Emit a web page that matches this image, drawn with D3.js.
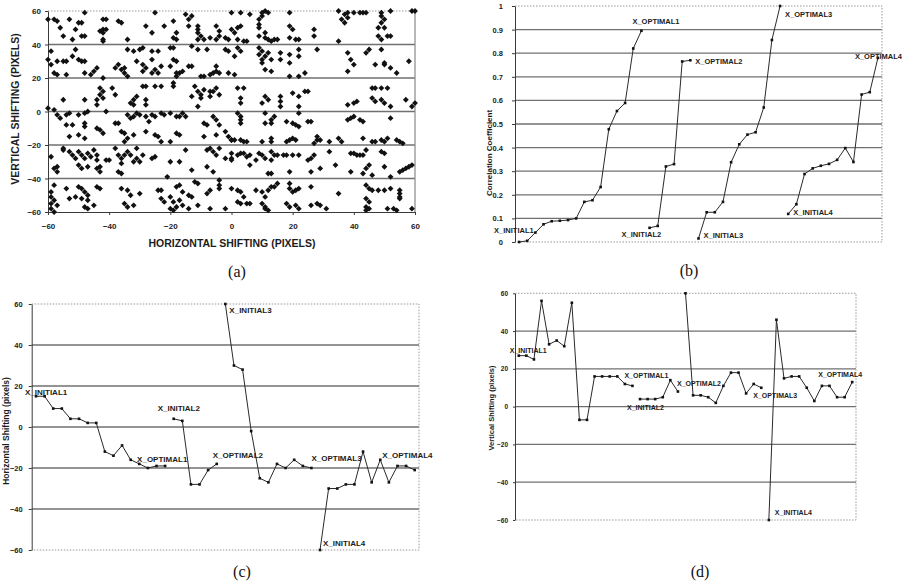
<!DOCTYPE html>
<html>
<head>
<meta charset="utf-8">
<script src="https://cdn.jsdelivr.net/npm/d3@7"></script>
<style>
  body { margin: 0; background: #fff; }
  svg { display: block; background: #fff; }
</style>
</head>
<body>
<svg id="fig" width="902" height="586"></svg>
<script>
// ---------------- data ----------------
// (a) search positions tried: [horizontal shift, vertical shift] in pixels
const searchPoints = [
  [-48,59],[-25,59],[-60,55],[-58,55],[-57,54],[-56,50],[-53,55],[-50,53],[-51,49],[-55,45],[-52,43],[-49,45],[-48,45],[-49,53],
  [-42,55],[-41,55],[-43,48],[-42,49],[-41,49],[-42,47],[-42,43],[-42,42],[-37,54],[-36,53],[-34,43],[-28,51],[-26,47],[-22,51],
  [-19,54],[-18,47],[-18,43],[-19,44],[-15,58],[-13,57],[-14,55],[-14,51],[-11,51],[-11,49],[-11,47],[-10,45],[-11,43],[-9,43],
  [-7,44],[-5,43],[-4,45],[-5,51],[-4,48],[-2,44],[-1,43],
  [-59,36],[-60,31],[-59,28],[-58,23],[-57,30],[-55,30],[-54,30],[-52,33],[-50,31],[-49,30],[-51,37],[-48,23],[-48,30],[-54,22],[-57,22],
  [-44,26],[-45,24],[-46,22],[-38,26],[-37,28],[-36,25],[-35,26],[-35,23],[-34,21],[-34,37],[-32,36],[-30,37],[-29,38],[-26,36],[-24,36],
  [-31,30],[-29,28],[-26,31],[-28,26],[-25,25],[-29,24],[-26,23],[-23,27],[-24,23],[-20,38],[-19,38],[-19,31],[-18,30],[-20,27],[-18,23],
  [-18,21],[-17,23],[-16,24],[-14,27],[-13,27],[-13,39],[-11,37],[-8,37],[-10,21],[-9,21],[-7,22],[-6,23],[-5,24],[-5,27],[-2,37],[-1,36],
  [-4,23],[-1,23],
  [-55,7],[-48,7],[-43,14],[-42,12],[-43,10],[-42,8],[-44,7],[-44,4],[-39,14],[-38,10],[-42,20],[-32,7],[-31,9],[-33,5],[-32,4],[-28,4],
  [-28,7],[-29,15],[-28,15],[-25,15],[-23,15],[-19,17],[-19,15],[-13,9],[-12,15],[-11,12],[-10,10],[-9,13],[-7,12],[-6,12],[-5,14],[-4,10],
  [-7,9],[-10,8],[-11,3],[-60,2],[-58,1],
  [0,59],[3,59],[6,58],[10,59],[11,60],[12,59],[10,57],[9,55],[19,59],[35,60],[37,58],[38,59],[40,59],[42,59],[43,59],[44,59],[36,55],
  [38,56],[37,53],[49,59],[49,57],[50,55],[49,53],[52,60],[59,60],[60,60],[0,49],[2,50],[3,51],[1,47],[2,43],[4,42],[5,42],[9,52],[9,50],
  [9,45],[11,44],[12,43],[13,42],[14,43],[15,43],[11,47],[19,51],[20,49],[19,44],[21,43],[22,43],[27,49],[27,45],[35,42],[48,50],[50,50],
  [48,45],[49,43],[51,45],[52,45],
  [2,38],[3,36],[1,33],[9,38],[10,36],[9,34],[11,33],[10,31],[12,35],[13,31],[10,29],[11,25],[13,24],[16,35],[16,31],[19,34],[19,29],
  [22,37],[22,33],[28,37],[1,22],[19,21],[22,21],[24,23],[38,35],[39,31],[40,28],[38,24],[44,35],[45,37],[49,37],[50,29],[50,28],[52,26],
  [54,23],[47,28],[58,30],
  [2,14],[4,14],[3,8],[3,5],[10,5],[11,9],[12,7],[16,9],[16,6],[16,3],[20,11],[22,9],[24,12],[25,12],[22,3],[38,4],[40,5],[41,6],[46,14],
  [47,14],[49,14],[51,14],[46,8],[47,6],[49,7],[50,5],[52,3],[57,7],[59,3],[60,5],
  [-57,-2],[-56,-4],[-54,-2],[-53,-1],[-50,-2],[-48,-1],[-47,0],[-54,-8],[-52,-8],[-48,-7],[-48,-9],[-53,-15],[-50,-14],[-48,-16],
  [-44,-10],[-43,-11],[-42,-13],[-41,0],[-38,-7],[-37,-7],[-34,-2],[-33,-4],[-32,-3],[-31,-1],[-30,-2],[-36,-12],[-35,-13],[-34,-16],
  [-35,-18],[-32,-14],[-28,-3],[-27,-6],[-26,-2],[-25,-3],[-23,-1],[-22,-2],[-20,-1],[-18,-3],[-17,-3],[-28,-12],[-25,-14],[-24,-15],
  [-23,-18],[-20,-18],[-18,-13],[-17,-14],[-16,-1],[-15,-3],[-9,-7],[-8,-8],[-9,-15],[-6,-3],[-5,-5],[-4,-8],[-2,-12],[-1,-15],[0,-17],
  [-5,-14],
  [-59,-27],[-58,-34],[-57,-33],[-57,-36],[-55,-23],[-55,-22],[-53,-24],[-52,-26],[-50,-24],[-51,-28],[-49,-26],[-48,-28],[-47,-25],
  [-46,-27],[-45,-23],[-44,-26],[-44,-29],[-50,-32],[-49,-34],[-47,-33],[-44,-34],[-43,-33],[-43,-36],[-41,-29],[-40,-29],[-38,-22],
  [-37,-26],[-36,-28],[-35,-26],[-34,-24],[-33,-26],[-32,-30],[-31,-28],[-30,-30],[-31,-22],[-36,-31],[-37,-36],[-36,-37],[-29,-26],
  [-26,-28],[-25,-27],[-20,-30],[-17,-30],[-15,-23],[-13,-35],[-8,-23],[-7,-22],[-6,-24],[-5,-26],[-4,-22],[-2,-28],[0,-29],[-8,-33],
  [-6,-36],[-21,-39],
  [-58,-44],[-59,-51],[-58,-53],[-59,-55],[-57,-56],[-59,-58],[-58,-60],[-59,-48],[-54,-46],[-53,-52],[-51,-51],[-49,-52],[-50,-45],
  [-49,-46],[-48,-48],[-47,-50],[-47,-53],[-44,-45],[-43,-46],[-48,-57],[-47,-58],[-45,-56],[-36,-46],[-34,-47],[-33,-50],[-35,-55],
  [-34,-57],[-32,-56],[-30,-49],[-24,-47],[-23,-47],[-23,-52],[-22,-54],[-20,-51],[-19,-54],[-18,-57],[-20,-58],[-19,-59],[-18,-45],
  [-17,-44],[-16,-48],[-14,-50],[-13,-51],[-17,-53],[-16,-56],[-14,-58],[-12,-42],[-11,-43],[-8,-49],[-7,-47],[-4,-41],[-4,-44],
  [-4,-46],[-7,-58],[-2,-58],[-11,-56],
  [2,-1],[3,-3],[3,-5],[3,-7],[11,-1],[13,-5],[13,-7],[11,-7],[14,-3],[22,-1],[18,-6],[20,-7],[21,-8],[22,-9],[25,-6],[26,-6],[38,-5],
  [39,-4],[40,-3],[42,-5],[43,-6],[52,-4],[0,-17],[1,-17],[3,-17],[4,-18],[5,-18],[10,-18],[13,-18],[13,-16],[18,-18],[19,-17],[20,-16],
  [21,-17],[27,-19],[28,-17],[28,-15],[29,-17],[32,-18],[35,-16],[36,-18],[43,-16],[46,-18],[47,-18],[49,-17],[51,-16],[50,-18],
  [54,-17],[55,-18],[56,-19],
  [0,-25],[0,-28],[2,-26],[3,-25],[4,-25],[5,-27],[6,-26],[8,-29],[6,-32],[9,-25],[10,-26],[11,-28],[13,-24],[13,-29],[14,-26],[15,-26],
  [17,-26],[18,-26],[20,-26],[22,-26],[25,-29],[26,-28],[27,-26],[29,-34],[32,-24],[34,-32],[12,-37],[13,-37],[19,-36],[26,-36],
  [39,-25],[40,-25],[41,-26],[42,-26],[44,-23],[43,-26],[45,-32],[44,-34],[43,-37],[46,-38],[39,-36],[49,-24],[50,-25],[50,-33],
  [52,-39],[55,-36],[56,-35],[57,-34],[58,-33],[59,-32],
  [0,-46],[2,-47],[3,-48],[4,-51],[2,-54],[3,-55],[5,-55],[6,-55],[8,-47],[10,-48],[11,-51],[12,-47],[13,-45],[14,-45],[15,-43],
  [10,-55],[11,-57],[11,-58],[12,-59],[19,-43],[19,-46],[20,-48],[21,-47],[22,-46],[26,-45],[18,-55],[19,-57],[21,-56],[22,-58],
  [26,-56],[28,-55],[29,-56],[31,-58],[35,-49],[44,-44],[45,-46],[46,-47],[48,-47],[50,-47],[44,-52],[45,-54],[44,-57],[45,-58],
  [44,-59],[52,-46],[55,-47],[55,-49],[55,-51],[55,-52],[51,-58],[53,-58],[54,-59],[59,-58]
];
const shiftTicks = [-60, -40, -20, 0, 20, 40, 60];

// (b)-(d): four searches, each a run of consecutive iterations on one category axis
const CATEGORY_COUNT = 45;
const runStarts = [0, 16, 22, 33];

const corrRun1 = [0.00, 0.005, 0.04, 0.075, 0.088, 0.09, 0.093, 0.10, 0.17, 0.177, 0.233, 0.478, 0.555, 0.589, 0.82, 0.895];
const corrRun2 = [0.06, 0.068, 0.32, 0.33, 0.765, 0.77];
const corrRun3 = [0.015, 0.126, 0.126, 0.17, 0.338, 0.414, 0.455, 0.465, 0.57, 0.856, 1.0];
const corrRun4 = [0.119, 0.16, 0.288, 0.312, 0.323, 0.331, 0.348, 0.398, 0.339, 0.625, 0.635, 0.78];
const corrTicks = [0, 0.1, 0.2, 0.3, 0.4, 0.5, 0.6, 0.7, 0.8, 0.9, 1];

const hShiftRun1 = [15, 15, 9, 9, 4, 4, 2, 2, -12, -14, -9, -16, -18, -20, -19, -19];
const hShiftRun2 = [4, 3, -28, -28, -21, -18];
const hShiftRun3 = [60, 30, 28, -2, -25, -27, -18, -20, -16, -19, -20];
const hShiftRun4 = [-60, -30, -30, -28, -28, -12, -27, -16, -27, -19, -19, -21];

const vShiftRun1 = [27, 27, 25, 56, 33, 35, 32, 55, -7, -7, 16, 16, 16, 16, 12, 11];
const vShiftRun2 = [4, 4, 4, 5, 14, 8];
const vShiftRun3 = [60, 6, 6, 5, 2, 11, 18, 18, 7, 12, 10];
const vShiftRun4 = [-60, 46, 15, 16, 16, 10, 3, 11, 11, 5, 5, 13];

// ---------------- drawing ----------------
const SANS = '"Liberation Sans", Arial, Helvetica, sans-serif';
const SERIF = '"Liberation Serif", "Times New Roman", serif';
const INK = "#1c1c1c";
const GRID = "#707070";
const svg = d3.select("#fig");

function styleAxis(ax, fontSize) {
  ax.select(".domain").attr("stroke", "#3a3a3a").attr("stroke-width", 1);
  ax.selectAll(".tick line").attr("stroke", "#3a3a3a");
  ax.selectAll(".tick text")
    .attr("font-family", SANS).attr("font-size", fontSize)
    .attr("font-weight", "bold").attr("fill", INK);
}

function panelLabel(text, cx, baseline) {
  svg.append("text").attr("x", cx).attr("y", baseline)
    .attr("text-anchor", "middle").attr("font-family", SERIF)
    .attr("font-size", 16).attr("fill", "#111").text(text);
}

function rotatedTitle(text, cx, cy, size) {
  svg.append("text")
    .attr("transform", `translate(${cx},${cy}) rotate(-90)`)
    .attr("dy", "0.35em").attr("text-anchor", "middle")
    .attr("font-family", SANS).attr("font-size", size)
    .attr("font-weight", "bold").attr("fill", INK).text(text);
}

// ---- (a) scatter of tried shifts ----
(function drawScatter() {
  const x0 = 48, x1 = 415, y0 = 11, y1 = 212;
  const x = d3.scaleLinear().domain([-60, 60]).range([x0, x1]);
  const y = d3.scaleLinear().domain([-60, 60]).range([y1, y0]);
  const g = svg.append("g");

  g.selectAll("line.grid").data(shiftTicks.slice(1, -1)).join("line")
    .attr("x1", x0).attr("x2", x1).attr("y1", d => y(d)).attr("y2", d => y(d))
    .attr("stroke", GRID).attr("stroke-width", 1.7);
  g.append("line").attr("x1", x0).attr("x2", x1).attr("y1", y0).attr("y2", y0)
    .attr("stroke", "#999").attr("stroke-dasharray", "1.5,1.5");
  g.append("line").attr("x1", x1).attr("x2", x1).attr("y1", y0).attr("y2", y1)
    .attr("stroke", "#888").attr("stroke-width", 1.2);

  const ay = g.append("g").attr("transform", `translate(${x0},0)`)
    .call(d3.axisLeft(y).tickValues(shiftTicks).tickSize(3).tickSizeOuter(0).tickPadding(4));
  styleAxis(ay, 8);
  const ax = g.append("g").attr("transform", `translate(0,${y1})`)
    .call(d3.axisBottom(x).tickValues(shiftTicks).tickSize(3).tickSizeOuter(0).tickPadding(8));
  styleAxis(ax, 8);

  const diamond = d3.symbol(d3.symbolSquare, 17)();
  g.selectAll("path.pt").data(searchPoints).join("path")
    .attr("d", diamond)
    .attr("transform", d => `translate(${x(d[0])},${y(d[1])}) rotate(45)`)
    .attr("fill", "#111");

  svg.append("text").attr("x", 232).attr("y", 247).attr("text-anchor", "middle")
    .attr("font-family", SANS).attr("font-size", 10.5).attr("font-weight", "bold")
    .attr("fill", INK).text("HORIZONTAL SHIFTING (PIXELS)");
  rotatedTitle("VERTICAL SHIFTING (PIXELS)", 15, 109, 10.5);
  panelLabel("(a)", 237, 277);
})();

// ---- (b)-(d) iteration traces ----
function drawTracePanel(cfg) {
  const { x0, x1, y0, y1 } = cfg;
  const x = d3.scaleLinear().domain([-0.5, CATEGORY_COUNT - 0.5]).range([x0, x1]);
  const y = d3.scaleLinear().domain(cfg.domain).range([y1, y0]);
  const g = svg.append("g");

  g.selectAll("line.grid").data(cfg.ticks.slice(1, -1)).join("line")
    .attr("x1", x0).attr("x2", x1).attr("y1", d => y(d)).attr("y2", d => y(d))
    .attr("stroke", GRID).attr("stroke-width", 1.3);
  g.append("path").attr("d", `M${x0},${y0}H${x1}V${y1}H${x0}`)
    .attr("fill", "none").attr("stroke", "#9a9a9a").attr("stroke-dasharray", "1.5,1.5");

  const ay = g.append("g").attr("transform", `translate(${x0},0)`)
    .call(d3.axisLeft(y).tickValues(cfg.ticks).tickFormat(cfg.format)
      .tickSize(cfg.tickSize).tickSizeOuter(0).tickPadding(cfg.tickPad));
  styleAxis(ay, cfg.tickFont);

  const line = d3.line().x(d => x(d.i)).y(d => y(d.v));
  cfg.runs.forEach((vals, k) => {
    const pts = vals.map((v, j) => ({ i: runStarts[k] + j, v }));
    g.append("path").datum(pts).attr("d", line)
      .attr("fill", "none").attr("stroke", "#2a2a2a").attr("stroke-width", 1);
    g.selectAll(null).data(pts).join("rect")
      .attr("x", d => x(d.i) - 1.3).attr("y", d => y(d.v) - 1.3)
      .attr("width", 2.6).attr("height", 2.6).attr("fill", "#111");
  });

  cfg.notes.forEach(n => {
    const i = runStarts[n.run] + n.at;
    const v = cfg.runs[n.run][n.at];
    g.append("text").attr("x", x(i) + n.dx).attr("y", y(v) + n.dy).attr("dy", "0.35em")
      .attr("font-family", SANS).attr("font-size", cfg.noteFont).attr("font-weight", "bold")
      .attr("fill", INK).text(n.text);
  });

  rotatedTitle(cfg.title, cfg.titleX, cfg.titleY, cfg.titleFont);
}

drawTracePanel({
  x0: 515, x1: 882, y0: 6, y1: 242,
  domain: [0, 1], ticks: corrTicks, format: d3.format("~g"),
  tickSize: 3, tickPad: 9, tickFont: 7.5,
  runs: [corrRun1, corrRun2, corrRun3, corrRun4],
  noteFont: 7.5,
  notes: [
    { run: 0, at: 0, dx: -25, dy: -12, text: "X_INITIAL1" },
    { run: 0, at: 15, dx: -9, dy: -9, text: "X_OPTIMAL1" },
    { run: 1, at: 0, dx: -28, dy: 7, text: "X_INITIAL2" },
    { run: 1, at: 5, dx: 5, dy: 1, text: "X_OPTIMAL2" },
    { run: 2, at: 0, dx: 5, dy: -3, text: "X_INITIAL3" },
    { run: 2, at: 10, dx: 5, dy: 8, text: "X_OPTIMAL3" },
    { run: 3, at: 0, dx: 5, dy: -2, text: "X_INITIAL4" },
    { run: 3, at: 11, dx: -23, dy: -2, text: "X_OPTIMAL4" }
  ],
  title: "Correlation Coefficient", titleX: 489, titleY: 153, titleFont: 8
});
panelLabel("(b)", 689, 276);

drawTracePanel({
  x0: 31.7, x1: 419, y0: 304, y1: 550,
  domain: [-60, 60], ticks: shiftTicks, format: d3.format("d"),
  tickSize: 3, tickPad: 6, tickFont: 7.5,
  runs: [hShiftRun1, hShiftRun2, hShiftRun3, hShiftRun4],
  noteFont: 8,
  notes: [
    { run: 0, at: 0, dx: -11, dy: -4, text: "X_INITIAL1" },
    { run: 0, at: 15, dx: -28, dy: -7, text: "X_OPTIMAL1" },
    { run: 1, at: 0, dx: -16, dy: -11, text: "X_INITIAL2" },
    { run: 1, at: 5, dx: -4, dy: -9, text: "X_OPTIMAL2" },
    { run: 2, at: 0, dx: 4, dy: 6, text: "X_INITIAL3" },
    { run: 2, at: 10, dx: 0, dy: -10, text: "X_OPTIMAL3" },
    { run: 3, at: 0, dx: 3, dy: -7, text: "X_INITIAL4" },
    { run: 3, at: 7, dx: 2, dy: -5, text: "X_OPTIMAL4" }
  ],
  title: "Horizontal Shifting (pixels)", titleX: 6.5, titleY: 431, titleFont: 8.5
});
panelLabel("(c)", 242, 577);

drawTracePanel({
  x0: 515, x1: 856, y0: 293.3, y1: 520,
  domain: [-60, 60], ticks: shiftTicks, format: d3.format("d"),
  tickSize: 2, tickPad: 5, tickFont: 6.5,
  runs: [vShiftRun1, vShiftRun2, vShiftRun3, vShiftRun4],
  noteFont: 7,
  notes: [
    { run: 0, at: 0, dx: -9, dy: -5, text: "X_INITIAL1" },
    { run: 0, at: 15, dx: -8, dy: -10, text: "X_OPTIMAL1" },
    { run: 1, at: 0, dx: -13, dy: 8, text: "X_INITIAL2" },
    { run: 1, at: 5, dx: -1, dy: -8, text: "X_OPTIMAL2" },
    { run: 2, at: 10, dx: -8, dy: 8, text: "X_OPTIMAL3" },
    { run: 3, at: 0, dx: 6, dy: -7, text: "X_INITIAL4" },
    { run: 3, at: 11, dx: -34, dy: -8, text: "X_OPTIMAL4" }
  ],
  title: "Vertical Shifting (pixels)", titleX: 491, titleY: 408, titleFont: 7.5
});
panelLabel("(d)", 700, 577);
</script>
</body>
</html>
